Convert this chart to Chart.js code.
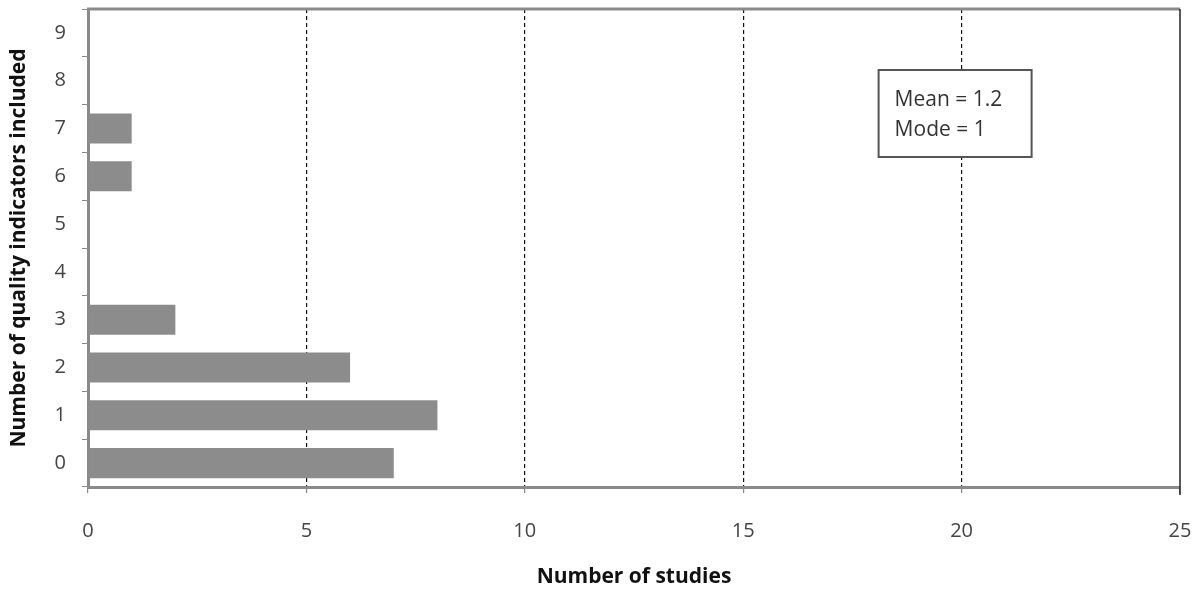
<!DOCTYPE html>
<html>
<head>
<meta charset="utf-8">
<script src="https://cdn.jsdelivr.net/npm/chart.js@4.4.0/dist/chart.umd.min.js"></script>
<style>
  html, body { margin: 0; padding: 0; background: #fff; }
  #wrap { width: 1204px; height: 594px; }
</style>
</head>
<body>
<div id="wrap"><canvas id="qualityChart" width="1204" height="594"></canvas></div>
<script>
// Dados do gráfico
const categorias = ['0', '1', '2', '3', '4', '5', '6', '7', '8', '9'];
const estudos = [7, 8, 6, 2, 0, 0, 1, 1, 0, 0];
const xTicks = [0, 5, 10, 15, 20, 25];
const boxLines = ['Mean = 1.2', 'Mode = 1'];

const fonte = '"Open Sans", "Liberation Sans", sans-serif';

// moldura (topo e direita) + caixa de texto
const extras = {
    id: 'extras',
    afterDraw(chart) {
        const c = chart.ctx;
        const a = chart.chartArea;
        c.save();
        c.strokeStyle = '#8a8a8a';
        c.lineWidth = 3;
        c.beginPath();
        c.moveTo(a.left - 1, a.top);
        c.lineTo(a.right, a.top);
        c.stroke();
        c.strokeStyle = '#222';
        c.lineWidth = 1.5;
        c.beginPath();
        c.moveTo(a.right, a.top);
        c.lineTo(a.right, a.bottom + 8);
        c.stroke();

        // caixa Mean / Mode
        const xs = chart.scales.x;
        const bx = xs.getPixelForValue(18.1);
        const by = a.top + 61;
        const bw = 153, bh = 87;
        c.fillStyle = '#fff';
        c.fillRect(bx, by, bw, bh);
        c.strokeStyle = '#555';
        c.lineWidth = 2;
        c.strokeRect(bx, by, bw, bh);
        c.fillStyle = '#333';
        c.font = '21px ' + fonte;
        c.textBaseline = 'middle';
        c.fillText(boxLines[0], bx + 16, by + 30);
        c.fillText(boxLines[1], bx + 16, by + 60);
        c.restore();
    }
};

new Chart(document.getElementById('qualityChart'), {
    type: 'bar',
    data: {
        labels: categorias,
        datasets: [{
            data: estudos,
            backgroundColor: '#8c8c8c',
            borderWidth: 0,
            barPercentage: 0.63,
            categoryPercentage: 1.0
        }]
    },
    plugins: [extras],
    options: {
        indexAxis: 'y',
        responsive: false,
        animation: false,
        layout: { padding: { top: 9, right: 24, left: 0, bottom: 0 } },
        plugins: {
            legend: { display: false },
            tooltip: { enabled: false }
        },
        scales: {
            x: {
                min: 0,
                max: 25,
                afterBuildTicks: (s) => { s.ticks = xTicks.map(v => ({ value: v })); },
                afterFit: (s) => { s.height = 107; s.paddingLeft = 0; s.paddingRight = 0; },
                grid: {
                    color: (ctx) => (ctx.tick && (ctx.tick.value === 0 || ctx.tick.value === 25)) ? 'rgba(0,0,0,0)' : '#111',
                    lineWidth: 1.2,
                    tickColor: '#888',
                    tickLength: 6,
                    tickBorderDash: []
                },
                border: { color: '#8a8a8a', width: 3, dash: [4, 3] },
                ticks: {
                    color: '#444',
                    font: { family: fonte, size: 20 },
                    padding: 26
                },
                title: {
                    display: true,
                    text: 'Number of studies',
                    color: '#111',
                    font: { family: fonte, size: 21, weight: 'bold' },
                    padding: { top: 0, bottom: 4 }
                }
            },
            y: {
                reverse: true,
                afterFit: (s) => { s.width = 88; s.paddingTop = 0; s.paddingBottom = 0; },
                grid: {
                    offset: true,
                    drawOnChartArea: false,
                    color: '#888',
                    tickLength: 6
                },
                border: { color: '#8a8a8a', width: 3 },
                ticks: {
                    color: '#444',
                    font: { family: fonte, size: 20 },
                    padding: 16
                },
                title: {
                    display: true,
                    text: 'Number of quality indicators included',
                    color: '#111',
                    font: { family: fonte, size: 21, weight: 'bold' },
                    padding: { top: 6, bottom: 0 }
                }
            }
        }
    }
});
</script>
</body>
</html>
